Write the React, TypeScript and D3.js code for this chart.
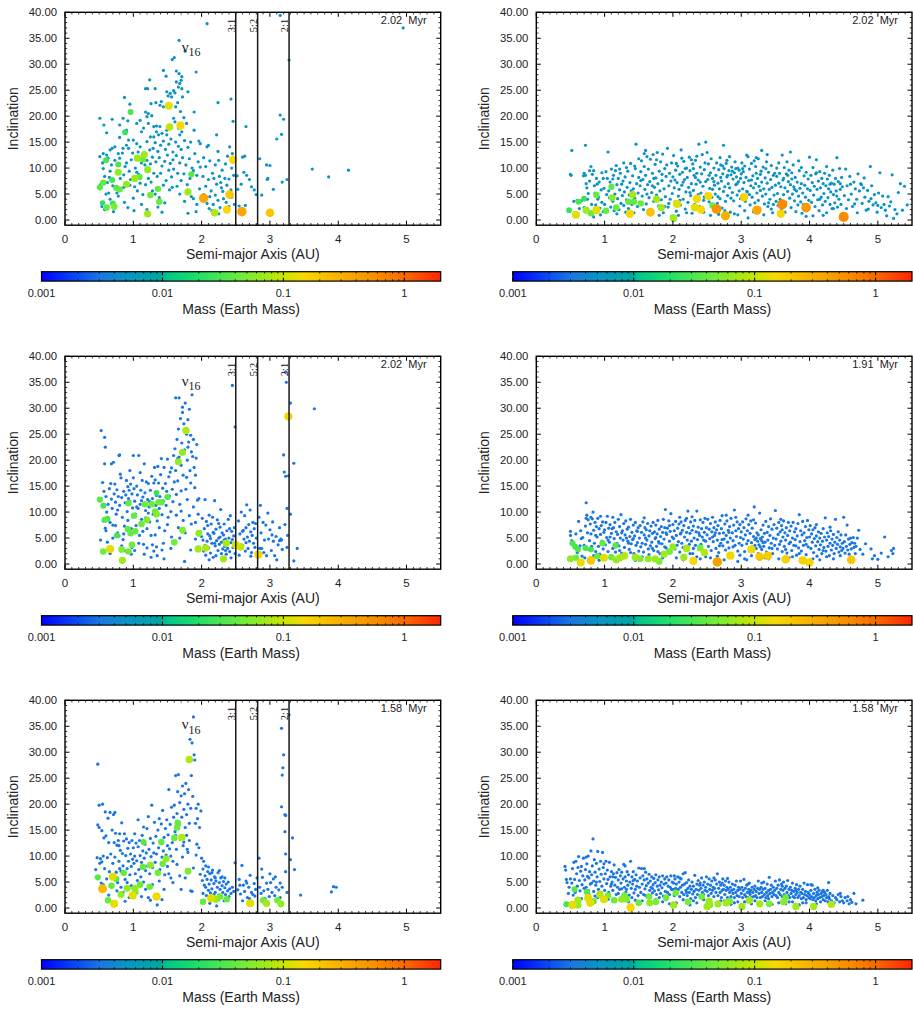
import React from "react";
import * as d3 from "d3";

// ---- chart values ----
const timeLabels = ["2.02  Myr", "2.02  Myr", "2.02  Myr", "1.91  Myr", "1.58  Myr", "1.58  Myr"];
const resonanceA = [2.5, 2.82, 3.28];
const resonanceText = ["3:1", "5:2", "2:1"];
const nuLabelPos = [[1.71, 32.4], [1.71, 34.3], [1.71, 34.4]];
const xTicks = [0, 1, 2, 3, 4, 5];
const yTicks = [0, 5, 10, 15, 20, 25, 30, 35, 40];
const cbTicks = [0.001, 0.01, 0.1, 1];
const cbTickLabels = ["0.001", "0.01", "0.1", "1"];
// mass of the small (planetesimal) bodies in each panel
const smallMass = [0.005, 0.005, 0.003, 0.003, 0.003, 0.003];

// palette of the colour bar
const colorMass = [0.001, 0.002, 0.003, 0.005, 0.0095, 0.011, 0.02, 0.05, 0.1, 0.15, 0.3, 0.6, 1, 2];
const colorHex = ["#0000ff", "#0a4cf2", "#1a76e0", "#0a93c4", "#00a6a2", "#00c88a", "#22e068", "#78ee34", "#c8e600", "#f8d800", "#f8b000", "#f88c00", "#f86a00", "#ff2400"];

// panel 1: top left  [a, i, ...]
const p1Small = [
  0.51,19.6, 0.57,18.3, 0.61,16.8, 0.51,12.2, 0.56,12.8, 0.61,12.5, 0.63,11.9, 0.55,11.0, 0.58,8.4, 0.62,7.2, 0.64,5.2, 0.60,5.0, 0.58,2.0, 0.54,2.6, 0.66,13.5, 0.69,13.8, 0.69,19.4, 0.66,9.4, 0.68,10.6, 0.70,6.6, 0.71,3.1, 0.71,1.6, 0.66,4.0, 0.56,9.9, 0.65,8.2, 0.52,6.8,
  0.73,14.1, 0.73,11.5, 0.75,6.5, 0.76,5.2, 0.78,12.8, 0.80,11.9, 0.80,15.9, 0.80,18.3, 0.85,19.6, 0.92,19.1, 0.87,23.6, 0.90,17.3, 0.88,16.7, 0.93,15.4, 0.90,14.4, 0.93,13.8, 0.85,13.8, 0.84,12.9, 0.88,10.3, 0.90,11.0, 0.86,8.7, 0.94,9.4, 0.96,7.8, 0.86,6.3, 0.87,3.4, 0.92,2.4, 0.81,8.0, 0.78,4.6, 0.95,22.3, 0.97,11.6, 0.99,12.9, 0.95,6.7,
  1.00,15.4, 1.05,14.7, 1.10,14.1, 1.05,18.6, 1.10,19.2, 1.15,17.7, 1.12,17.0, 1.18,20.8, 1.22,20.5, 1.27,20.1, 1.20,19.9, 1.22,18.6, 1.18,25.3, 1.21,25.3, 1.24,27.0, 1.26,22.4, 1.07,13.1, 1.15,12.8, 1.24,13.5, 1.29,13.8, 1.20,15.1, 1.25,16.0, 1.03,10.0, 1.05,9.2, 1.08,12.2, 1.12,11.0, 1.17,10.6, 1.20,11.5, 1.25,10.8, 1.28,12.1, 1.02,6.4, 1.06,5.6, 1.10,7.1, 1.14,4.9, 1.18,6.8, 1.22,8.0, 1.26,7.3, 1.28,5.6, 1.30,9.0, 1.01,1.8, 1.12,3.0, 1.20,2.0, 1.00,4.2, 1.08,8.8,
  1.30,18.0, 1.34,18.1, 1.39,18.0, 1.34,17.0, 1.42,16.7, 1.49,17.3, 1.49,16.4, 1.37,16.4, 1.33,22.6, 1.41,22.8, 1.39,22.1, 1.44,21.8, 1.44,28.8, 1.48,27.7, 1.32,25.3, 1.49,24.7, 1.51,23.9, 1.54,24.4, 1.56,23.7, 1.57,30.9, 1.60,31.3, 1.59,24.9, 1.59,19.6, 1.56,18.1, 1.32,14.9, 1.36,13.2, 1.40,14.4, 1.44,15.2, 1.47,13.6, 1.52,14.6, 1.55,15.6, 1.58,13.1, 1.33,11.2, 1.38,12.0, 1.42,10.4, 1.46,11.3, 1.50,12.5, 1.54,10.9, 1.58,11.6, 1.35,8.4, 1.40,9.0, 1.44,6.7, 1.48,7.6, 1.52,9.6, 1.56,8.3, 1.59,9.8, 1.32,5.0, 1.38,4.3, 1.46,3.3, 1.53,5.8, 1.57,6.3, 1.36,2.5, 1.42,1.5, 1.30,16.0,
  1.61,18.9, 1.66,17.7, 1.71,17.0, 1.68,16.4, 1.63,28.7, 1.67,28.2, 1.71,27.6, 1.70,26.9, 1.63,26.6, 1.68,26.3, 1.66,25.6, 1.71,25.3, 1.61,24.5, 1.72,23.7, 1.80,24.7, 1.67,34.6, 1.76,32.5, 1.62,21.8, 1.65,22.6, 1.69,20.9, 1.74,19.7, 1.78,18.6, 1.89,20.8, 1.89,17.3, 1.92,28.5, 1.62,15.0, 1.66,14.2, 1.70,13.6, 1.75,15.3, 1.80,14.0, 1.84,15.0, 1.63,12.4, 1.68,11.0, 1.72,12.0, 1.77,10.6, 1.82,11.8, 1.86,10.0, 1.90,12.8, 1.65,9.0, 1.70,7.6, 1.74,8.9, 1.79,6.8, 1.83,8.0, 1.88,9.5, 1.93,8.6, 1.96,15.2, 1.98,14.7, 1.95,11.2, 1.98,10.2, 1.68,5.0, 1.75,3.6, 1.85,4.5, 1.88,4.1, 1.92,1.6, 1.80,1.3, 1.97,6.0, 1.64,6.5, 1.93,3.0,
  2.08,37.8, 2.08,14.1, 2.10,14.4, 2.22,16.4, 2.24,22.6, 2.43,23.3, 2.41,14.1, 2.24,13.2, 2.03,12.0, 2.06,10.3, 2.12,11.4, 2.16,9.0, 2.20,10.6, 2.25,11.5, 2.30,9.6, 2.35,10.8, 2.38,12.3, 2.45,12.8, 2.02,8.4, 2.06,6.5, 2.10,7.8, 2.14,5.6, 2.18,8.0, 2.22,6.9, 2.26,8.4, 2.28,7.2, 2.31,5.5, 2.34,8.0, 2.37,6.7, 2.40,7.9, 2.43,5.8, 2.47,8.6, 2.03,4.9, 2.08,3.2, 2.12,4.5, 2.17,3.0, 2.20,4.8, 2.24,3.8, 2.27,2.4, 2.32,4.1, 2.36,3.4, 2.40,2.6, 2.44,4.4, 2.48,3.0, 2.15,1.8, 2.25,1.2, 2.46,19.0, 2.44,10.0, 2.11,2.2, 2.29,6.2,
  2.52,8.5, 2.53,5.9, 2.55,2.7, 2.60,12.1, 2.63,12.3, 2.65,18.0, 2.62,9.2, 2.66,8.6, 2.70,7.8, 2.73,6.4, 2.77,5.8, 2.80,4.9, 2.64,2.8, 2.58,6.9,
  2.85,11.8, 2.88,4.8, 2.95,10.6, 2.97,8.0, 3.00,10.5, 3.05,5.9, 3.10,15.6, 3.15,20.2, 3.17,16.5, 3.20,19.4, 3.18,7.3, 3.25,7.8, 3.28,30.8, 3.15,39.4, 2.96,7.8,
  3.62,9.8, 3.86,8.3, 4.15,9.6, 4.95,37.0,
];
// [a, i, mass, ...]
const p1Big = [
  1.52,22.0,0.13, 1.53,17.9,0.09, 1.69,18.2,0.15, 0.96,20.8,0.03, 0.88,16.9,0.025, 1.16,12.6,0.07, 1.06,11.9,0.07, 1.14,11.7,0.04, 0.60,11.5,0.03, 0.78,10.7,0.03,
  2.46,11.6,0.15, 0.78,9.2,0.06, 1.21,9.7,0.06, 1.02,8.0,0.07, 1.09,8.3,0.04, 1.85,8.8,0.035, 0.69,7.7,0.03, 0.90,6.9,0.06, 0.75,6.2,0.035, 0.80,5.9,0.04,
  0.56,7.2,0.04, 0.51,6.3,0.035, 1.36,6.0,0.04, 1.80,5.4,0.07, 1.25,4.8,0.045, 2.03,4.2,0.35, 2.41,4.9,0.2, 1.38,3.5,0.045, 0.55,3.3,0.02, 0.61,2.4,0.04,
  0.72,2.6,0.05, 0.70,3.2,0.025, 2.37,2.0,0.15, 2.19,1.4,0.08, 1.21,1.2,0.07, 2.59,1.6,0.35, 3.00,1.4,0.2,
];

// panel 2: top right
const p2Small = [
  0.50,8.8, 0.52,13.4, 0.51,8.6, 0.55,3.6, 0.60,3.8, 0.63,2.2, 0.70,9.0, 0.72,8.6, 0.72,14.4, 0.73,7.0, 0.74,6.2, 0.75,4.0, 0.76,5.1, 0.78,9.5, 0.78,7.5, 0.80,10.3, 0.81,3.0, 0.82,8.8, 0.84,0.6, 0.85,6.6, 0.86,5.2, 0.87,2.9, 0.88,8.0, 0.90,4.0, 0.92,7.3, 0.93,2.3, 0.95,5.8, 0.96,3.4, 0.98,8.0, 0.99,6.1, 0.70,2.4, 0.66,3.7, 0.69,8.5, 0.84,9.5, 0.96,9.1, 0.98,1.6, 0.91,4.4, 0.77,1.5, 0.89,6.9, 0.94,1.0,
  1.00,3.0, 1.02,9.3, 1.04,8.0, 1.05,13.1, 1.06,5.6, 1.07,4.3, 1.08,7.3, 1.09,2.5, 1.10,9.8, 1.11,6.2, 1.12,3.6, 1.13,8.6, 1.15,5.0, 1.16,9.5, 1.17,10.5, 1.18,6.8, 1.19,4.1, 1.20,8.0, 1.21,2.0, 1.22,5.8, 1.23,9.0, 1.24,3.2, 1.25,6.9, 1.26,4.7, 1.27,7.5, 1.28,2.8, 1.29,5.4, 1.30,8.3, 1.31,1.5, 1.32,3.9, 1.33,6.3, 1.34,9.4, 1.35,2.2, 1.36,4.8, 1.37,7.2, 1.38,10.9, 1.39,5.6, 1.40,3.0, 1.41,8.5, 1.42,6.0, 1.43,1.4, 1.44,4.2, 1.45,9.9, 1.46,14.6, 1.47,7.0, 1.48,2.6, 1.49,5.2, 1.50,11.8, 1.50,8.2, 1.32,10.1, 1.18,1.2, 1.28,11.0, 1.03,4.9, 1.14,1.8, 1.39,1.1, 1.22,9.8, 1.12,7.9, 1.44,10.4,
  1.51,3.4, 1.52,6.6, 1.53,9.3, 1.54,11.4, 1.55,4.6, 1.56,7.8, 1.57,2.0, 1.58,10.3, 1.59,5.9, 1.60,8.6, 1.61,3.1, 1.62,12.2, 1.63,6.8, 1.64,9.8, 1.65,4.3, 1.66,7.4, 1.67,11.7, 1.68,1.9, 1.69,5.3, 1.70,9.0, 1.71,12.6, 1.72,3.6, 1.73,6.3, 1.74,10.7, 1.75,8.1, 1.76,4.8, 1.77,13.0, 1.78,7.0, 1.79,2.7, 1.80,9.4, 1.81,5.6, 1.82,11.2, 1.83,3.9, 1.84,7.6, 1.85,12.7, 1.86,1.4, 1.87,6.0, 1.88,9.9, 1.89,4.5, 1.90,8.4, 1.91,10.6, 1.92,13.8, 1.93,2.5, 1.94,6.6, 1.95,9.0, 1.96,4.0, 1.97,7.5, 1.98,11.0, 1.99,5.1, 1.60,13.4, 1.72,8.0, 1.53,7.6, 1.66,1.1, 1.84,8.8, 1.58,12.8, 1.76,11.6, 1.62,5.0, 1.94,3.2, 1.70,6.6, 1.80,0.9, 1.88,2.6,
  2.00,8.3, 2.01,12.4, 2.02,6.2, 2.03,3.5, 2.04,9.6, 2.05,1.7, 2.06,7.2, 2.07,10.4, 2.08,4.6, 2.09,5.9, 2.10,8.8, 2.11,2.9, 2.12,13.5, 2.13,6.7, 2.14,9.2, 2.15,4.0, 2.16,11.3, 2.17,7.8, 2.18,2.1, 2.19,5.4, 2.20,10.0, 2.21,8.2, 2.22,3.4, 2.23,6.3, 2.24,12.1, 2.25,9.5, 2.26,4.7, 2.27,7.0, 2.28,1.3, 2.29,10.8, 2.30,5.7, 2.31,8.6, 2.32,3.0, 2.33,11.5, 2.34,6.9, 2.35,9.0, 2.36,4.3, 2.37,7.7, 2.38,14.6, 2.39,2.6, 2.40,10.2, 2.41,5.2, 2.42,8.9, 2.43,12.6, 2.44,6.5, 2.45,3.8, 2.46,9.7, 2.47,11.0, 2.48,15.0, 2.48,7.4, 2.49,5.0, 2.50,13.0, 2.05,10.9, 2.15,7.3, 2.25,5.3, 2.35,12.3, 2.45,1.5, 2.10,3.8, 2.20,1.4, 2.30,9.9, 2.40,7.3, 2.13,11.9, 2.27,11.6, 2.37,4.9, 2.08,0.9, 2.42,2.2, 2.18,9.9, 2.33,8.2, 2.03,7.7, 2.46,4.4,
  2.51,7.8, 2.52,10.8, 2.53,3.5, 2.54,6.1, 2.55,9.1, 2.56,11.8, 2.57,4.4, 2.58,8.0, 2.59,2.4, 2.60,10.0, 2.61,6.7, 2.62,5.0, 2.63,8.6, 2.64,11.0, 2.65,3.2, 2.66,7.1, 2.67,9.7, 2.68,6.0, 2.69,4.1, 2.70,10.6, 2.71,7.5, 2.72,2.3, 2.73,8.9, 2.74,14.4, 2.74,5.5, 2.75,9.9, 2.76,6.4, 2.77,3.6, 2.78,10.9, 2.79,8.3, 2.80,4.7, 2.81,7.0, 2.82,9.5, 2.83,6.2, 2.84,1.5, 2.85,8.7, 2.86,10.2, 2.87,5.3, 2.88,7.9, 2.89,3.7, 2.90,9.1, 2.91,11.2, 2.92,6.8, 2.93,8.3, 2.94,4.8, 2.95,10.0, 2.96,7.4, 2.97,9.6, 2.98,2.7, 2.99,8.0, 2.55,0.9, 2.62,2.1, 2.69,12.0, 2.76,1.8, 2.83,12.2, 2.90,1.2, 2.97,5.6, 2.58,5.9, 2.66,4.5, 2.73,10.4, 2.80,8.6, 2.87,9.4, 2.94,7.0, 2.60,7.4, 2.70,8.2, 2.85,4.2, 2.95,1.0, 2.53,8.6, 2.67,1.1, 2.79,11.5, 2.92,9.9, 2.99,4.1,
  3.00,8.9, 3.01,11.0, 3.02,6.0, 3.03,9.3, 3.04,7.2, 3.05,10.4, 3.06,3.6, 3.07,8.2, 3.08,12.5, 3.09,5.4, 3.10,12.2, 3.11,7.6, 3.12,9.8, 3.13,2.9, 3.14,6.6, 3.15,10.9, 3.16,4.4, 3.17,8.5, 3.18,6.2, 3.19,11.4, 3.20,3.3, 3.21,7.0, 3.22,9.0, 3.23,5.2, 3.24,8.0, 3.25,11.8, 3.26,6.5, 3.27,2.2, 3.28,5.7, 3.29,9.4, 3.30,13.4, 3.30,7.3, 3.31,4.6, 3.32,10.2, 3.33,6.0, 3.34,3.1, 3.35,8.1, 3.36,5.0, 3.37,11.2, 3.38,7.1, 3.39,2.6, 3.40,9.2, 3.41,5.9, 3.42,4.0, 3.43,7.8, 3.44,10.5, 3.45,6.3, 3.46,1.4, 3.47,8.6, 3.48,4.8, 3.49,9.0, 3.50,6.7, 3.05,1.8, 3.12,4.9, 3.18,1.6, 3.25,3.8, 3.33,1.0, 3.40,3.3, 3.15,7.7, 3.22,12.0, 3.28,8.8, 3.36,9.9, 3.44,2.1, 3.02,4.5, 3.08,5.5, 3.21,10.3, 3.38,12.6, 3.47,3.0, 3.10,0.4, 3.02,9.9,
  3.51,3.6, 3.52,8.4, 3.53,5.1, 3.54,2.8, 3.55,7.1, 3.56,9.0, 3.57,4.0, 3.58,6.4, 3.59,1.9, 3.60,12.5, 3.61,7.7, 3.62,4.9, 3.63,10.1, 3.64,6.2, 3.65,3.4, 3.66,8.9, 3.67,11.2, 3.68,5.5, 3.69,7.4, 3.70,9.6, 3.71,4.2, 3.72,13.1, 3.72,6.8, 3.73,2.4, 3.74,7.9, 3.75,5.0, 3.76,10.6, 3.77,6.4, 3.78,3.7, 3.79,8.2, 3.80,1.6, 3.81,5.6, 3.82,7.3, 3.83,2.9, 3.84,4.6, 3.85,9.5, 3.86,6.1, 3.87,3.5, 3.88,7.0, 3.89,1.3, 3.90,5.2, 3.91,3.0, 3.92,8.5, 3.93,6.7, 3.94,4.4, 3.95,9.2, 3.96,2.2, 3.97,6.0, 3.98,7.9, 3.99,3.8, 3.55,11.0, 3.64,1.5, 3.74,9.1, 3.84,11.4, 3.58,3.0, 3.68,8.6, 3.78,5.9, 3.88,10.1, 3.95,0.7, 3.52,10.0, 3.62,8.0,
  4.00,12.1, 4.01,5.7, 4.02,8.6, 4.03,3.4, 4.04,7.2, 4.05,10.1, 4.06,4.8, 4.07,6.5, 4.08,2.6, 4.09,8.9, 4.10,11.6, 4.11,5.9, 4.12,3.9, 4.13,7.5, 4.14,1.8, 4.15,9.3, 4.16,6.2, 4.17,4.4, 4.18,8.0, 4.19,2.9, 4.20,7.0, 4.21,5.1, 4.22,9.0, 4.23,3.6, 4.24,6.6, 4.25,1.4, 4.26,7.9, 4.27,4.3, 4.28,6.0, 4.29,8.6, 4.30,3.0, 4.31,5.4, 4.32,7.1, 4.33,2.2, 4.34,9.6, 4.35,4.9, 4.36,6.9, 4.37,3.3, 4.38,8.0, 4.39,5.6, 4.40,12.0, 4.41,2.5, 4.42,7.4, 4.43,4.0, 4.44,9.9, 4.45,5.9, 4.46,3.0, 4.47,8.2, 4.48,6.4, 4.49,1.2, 4.05,0.8, 4.15,4.0, 4.25,10.3, 4.35,2.2, 4.45,7.0, 4.10,9.1, 4.20,0.9, 4.30,6.9, 4.40,4.6,
  4.51,4.7, 4.53,9.8, 4.55,6.6, 4.57,3.9, 4.59,8.4, 4.61,5.0, 4.63,2.6, 4.65,7.3, 4.67,6.0, 4.69,4.0, 4.71,8.9, 4.73,5.6, 4.75,7.0, 4.77,3.2, 4.79,6.2, 4.81,4.4, 4.83,1.9, 4.85,5.7, 4.87,3.6, 4.89,10.3, 4.91,6.6, 4.93,2.9, 4.95,4.9, 4.97,3.3, 4.99,1.5, 5.01,5.2, 5.03,9.1, 5.05,2.4, 5.07,4.6, 5.09,3.0, 5.11,1.9, 5.13,0.8, 5.15,4.5, 5.17,2.7, 5.19,3.5, 5.21,8.7, 5.23,0.3, 5.25,2.0, 5.28,1.2, 5.30,5.3, 5.33,7.0, 5.36,1.9, 5.39,6.5, 5.43,2.9, 4.60,6.9, 4.70,1.4, 4.80,8.1, 4.90,4.1, 5.00,2.8, 4.66,3.1, 4.76,6.8, 4.86,2.1, 4.54,2.2,
];
const p2Big = [
  0.48,1.9,0.025, 0.58,1.0,0.12, 0.62,3.5,0.03, 0.70,4.1,0.025, 0.73,1.9,0.07, 0.80,1.3,0.04, 0.88,1.9,0.12, 0.88,4.8,0.04, 1.02,1.8,0.04, 1.10,6.4,0.035,
  1.11,4.3,0.06, 1.17,2.4,0.045, 1.35,3.5,0.04, 1.37,1.2,0.15, 1.41,4.9,0.07, 1.43,3.5,0.04, 1.53,3.2,0.04, 1.67,1.5,0.22, 1.76,4.0,0.07, 1.83,2.4,0.07,
  2.00,0.5,0.04, 2.01,0.3,0.07, 2.06,3.1,0.13, 2.32,2.4,0.13, 2.35,4.1,0.15, 2.41,2.0,0.15, 2.52,4.6,0.15, 2.58,2.8,0.04, 2.64,2.1,0.5, 2.77,0.8,0.3,
  3.04,4.4,0.17, 3.23,1.9,0.35, 3.58,1.2,0.15, 3.60,3.0,0.6, 3.95,2.4,0.45, 4.50,0.6,0.6,
];

// panel 3: middle left
const p3Small = [
  0.53,25.7, 0.58,24.4, 0.59,22.5, 0.52,4.6, 0.55,15.7, 0.57,14.0, 0.58,19.3, 0.60,13.0, 0.61,10.0, 0.56,8.3, 0.59,6.9, 0.60,6.4, 0.62,4.2, 0.64,3.0, 0.65,14.5, 0.66,8.0, 0.67,15.5, 0.68,12.5, 0.69,10.7, 0.70,7.5, 0.70,5.0, 0.68,19.3, 0.63,11.5, 0.66,2.0, 0.57,11.5,
  0.71,19.6, 0.72,13.5, 0.73,15.4, 0.74,11.9, 0.75,9.6, 0.76,14.3, 0.77,6.0, 0.78,13.0, 0.79,20.9, 0.80,21.0, 0.80,11.3, 0.81,17.3, 0.82,16.6, 0.83,12.8, 0.84,9.0, 0.85,4.7, 0.86,14.0, 0.87,7.3, 0.88,11.8, 0.89,13.3, 0.90,16.1, 0.91,10.1, 0.92,8.4, 0.93,12.6, 0.94,14.2, 0.95,18.0, 0.96,15.4, 0.97,6.8, 0.98,13.5, 0.99,10.8, 1.00,20.9, 1.00,16.6, 0.77,10.4, 0.83,3.5, 0.89,2.5, 0.95,12.0, 0.74,7.4, 0.86,5.8, 0.92,14.9, 0.98,3.2, 0.79,5.4, 0.97,1.9,
  1.01,14.5, 1.02,12.1, 1.03,9.6, 1.04,7.4, 1.05,15.0, 1.06,13.3, 1.07,10.7, 1.08,20.9, 1.09,5.5, 1.10,11.5, 1.11,14.2, 1.12,8.6, 1.13,16.1, 1.14,12.9, 1.15,3.8, 1.16,19.3, 1.17,13.7, 1.18,10.3, 1.19,15.8, 1.20,6.8, 1.21,12.4, 1.22,15.5, 1.23,11.0, 1.24,8.1, 1.25,14.2, 1.26,5.5, 1.27,16.9, 1.28,12.6, 1.29,9.6, 1.30,15.6, 1.30,2.5, 1.02,2.6, 1.08,4.0, 1.14,6.3, 1.20,3.1, 1.26,1.3, 1.05,11.0, 1.12,12.2, 1.18,8.9, 1.24,12.0, 1.10,17.6, 1.22,9.8, 1.16,1.9, 1.28,3.7,
  1.31,18.6, 1.32,16.2, 1.33,11.3, 1.34,13.2, 1.35,8.3, 1.36,18.8, 1.37,15.6, 1.38,10.7, 1.39,13.0, 1.40,17.2, 1.41,20.3, 1.42,9.5, 1.43,14.6, 1.44,12.1, 1.45,18.6, 1.46,6.4, 1.47,15.5, 1.48,11.3, 1.49,14.0, 1.50,20.2, 1.51,9.0, 1.52,16.8, 1.53,13.1, 1.54,17.7, 1.55,10.1, 1.56,18.5, 1.57,14.4, 1.58,12.0, 1.59,20.9, 1.60,15.8, 1.32,5.6, 1.38,7.0, 1.44,4.0, 1.50,7.6, 1.56,5.2, 1.35,1.6, 1.45,1.0, 1.42,2.7, 1.55,3.0, 1.34,3.3,
  1.61,22.2, 1.62,18.0, 1.63,13.4, 1.64,24.0, 1.65,16.0, 1.66,26.0, 1.67,20.6, 1.68,11.5, 1.69,28.0, 1.70,19.0, 1.71,23.3, 1.72,30.2, 1.73,17.1, 1.74,27.0, 1.75,22.0, 1.76,31.0, 1.77,14.4, 1.78,25.0, 1.79,20.0, 1.80,27.8, 1.81,23.5, 1.82,29.8, 1.83,18.0, 1.84,24.8, 1.85,21.6, 1.86,32.6, 1.87,20.7, 1.88,24.0, 1.89,18.6, 1.90,14.7, 1.91,17.1, 1.92,20.4, 1.93,23.0, 1.94,12.3, 1.95,9.6, 1.96,12.6, 1.98,6.2, 1.63,9.4, 1.66,7.0, 1.70,10.2, 1.73,8.4, 1.76,6.0, 1.79,12.4, 1.82,9.3, 1.85,7.7, 1.88,11.0, 1.91,4.8, 1.68,5.0, 1.75,0.5, 1.84,2.7, 1.62,32.0, 1.67,32.0, 1.72,29.2, 1.80,22.5, 1.78,16.7, 1.70,14.1, 1.84,15.6, 1.91,8.0, 1.65,20.3,
  2.00,5.3, 2.02,4.6, 2.03,2.5, 2.04,6.8, 2.05,12.4, 2.06,1.7, 2.07,8.2, 2.08,4.4, 2.09,7.4, 2.10,3.1, 2.11,9.4, 2.12,5.4, 2.13,2.1, 2.14,7.7, 2.15,4.0, 2.16,9.0, 2.17,1.3, 2.18,5.9, 2.19,12.2, 2.20,3.5, 2.21,6.7, 2.22,4.5, 2.23,8.5, 2.24,2.6, 2.25,5.0, 2.26,3.8, 2.27,7.1, 2.28,10.5, 2.29,4.2, 2.30,6.0, 2.31,2.9, 2.32,5.6, 2.33,7.7, 2.34,3.4, 2.35,4.8, 2.36,1.9, 2.37,6.4, 2.38,3.0, 2.39,8.6, 2.40,5.0, 2.41,2.4, 2.42,9.3, 2.43,4.1, 2.44,6.3, 2.45,34.4, 2.46,3.2, 2.47,5.4, 2.48,7.0, 2.49,26.4, 2.49,2.0, 2.01,8.8, 2.05,3.6, 2.09,5.8, 2.13,4.9, 2.17,6.1, 2.21,1.6, 2.25,7.8, 2.29,2.0, 2.33,4.6, 2.37,3.9, 2.41,6.8, 2.45,4.7, 2.11,0.8, 2.19,4.0, 2.27,5.2, 2.35,2.6, 2.43,1.2,
  2.52,4.0, 2.54,8.3, 2.55,1.7, 2.56,5.8, 2.58,10.0, 2.60,3.6, 2.61,6.5, 2.62,4.8, 2.63,9.3, 2.64,2.5, 2.65,7.0, 2.66,11.4, 2.67,5.2, 2.68,3.0, 2.69,7.6, 2.70,4.4, 2.71,10.4, 2.72,6.2, 2.73,2.2, 2.74,5.5, 2.75,8.0, 2.76,4.0, 2.77,6.8, 2.78,3.2, 2.79,7.8, 2.80,5.0, 2.57,3.0, 2.65,4.1, 2.72,1.5, 2.60,6.3,
  2.84,9.0, 2.85,3.0, 2.86,11.3, 2.87,6.0, 2.88,3.0, 2.90,8.0, 2.92,4.6, 2.94,7.5, 2.95,1.6, 2.97,9.8, 2.98,4.8, 3.00,6.6, 3.02,2.6, 3.04,8.1, 3.05,4.4, 3.07,1.6, 3.09,5.3, 3.10,0.8, 3.12,3.7, 3.14,7.0, 3.16,4.8, 3.18,2.8, 3.20,21.0, 3.21,17.7, 3.22,7.6, 3.23,16.9, 3.23,37.0, 3.24,35.0, 3.25,10.7, 3.26,5.5, 3.25,3.2, 3.27,17.0, 3.14,4.5, 3.17,4.6, 2.91,2.2, 3.03,5.6,
  3.30,31.0, 3.30,9.6, 3.35,19.4, 3.40,3.0, 3.35,0.6, 3.65,29.9,
];
const p3Big = [
  0.51,12.4,0.035, 0.56,11.2,0.03, 0.58,8.5,0.035, 0.62,8.7,0.03, 0.56,2.4,0.045, 0.66,2.9,0.13, 0.76,5.5,0.03, 0.83,2.8,0.05, 0.84,0.7,0.07, 0.92,6.7,0.04,
  0.93,11.7,0.04, 0.93,2.4,0.045, 0.96,5.9,0.04, 0.98,3.7,0.045, 1.01,9.3,0.04, 1.03,6.3,0.04, 1.12,7.7,0.045, 1.17,11.5,0.045, 1.20,8.5,0.055, 1.27,11.5,0.045,
  1.32,10.1,0.04, 1.34,9.6,0.055, 1.34,13.7,0.025, 1.37,11.9,0.045, 1.41,11.9,0.04, 1.50,12.9,0.035, 1.60,4.2,0.045, 1.66,19.7,0.06, 1.72,21.5,0.06, 1.72,6.5,0.055,
  1.77,25.7,0.08, 1.96,5.9,0.06, 1.95,2.9,0.07, 2.06,3.1,0.08, 2.32,1.0,0.07, 2.36,4.0,0.075, 2.50,3.7,0.12, 2.57,3.3,0.09, 2.83,1.8,0.14, 3.27,28.4,0.14,
];

// panel 4: middle right
const p4Small = [
  0.50,6.3, 0.50,5.5, 0.52,4.5, 0.55,3.7, 0.58,5.8, 0.60,2.2, 0.62,8.2, 0.64,3.5, 0.65,6.4, 0.67,1.5, 0.68,5.1, 0.70,3.6, 0.72,7.3, 0.73,11.8, 0.74,9.4, 0.75,6.0, 0.76,8.5, 0.77,2.8, 0.78,4.5, 0.79,7.7, 0.80,5.8, 0.81,3.4, 0.82,8.7, 0.83,10.0, 0.84,6.5, 0.85,4.0, 0.86,8.0, 0.87,2.4, 0.88,7.2, 0.89,5.2, 0.90,8.8, 0.91,3.4, 0.92,6.8, 0.93,1.9, 0.94,5.7, 0.95,7.4, 0.96,4.4, 0.97,8.1, 0.98,2.9, 0.99,6.1, 0.73,8.8, 0.80,9.0, 0.87,5.5, 0.94,9.2, 0.66,4.9, 0.71,1.2, 0.92,0.7, 0.84,1.6,
  1.00,6.6, 1.01,3.7, 1.02,8.0, 1.03,5.1, 1.04,9.2, 1.05,2.4, 1.06,6.9, 1.07,4.2, 1.08,7.6, 1.09,1.6, 1.10,5.9, 1.11,6.8, 1.12,3.0, 1.13,7.0, 1.14,4.9, 1.15,8.0, 1.16,2.3, 1.17,6.2, 1.18,4.0, 1.19,5.7, 1.20,8.6, 1.21,3.5, 1.22,7.2, 1.23,5.0, 1.24,9.5, 1.25,2.1, 1.26,6.4, 1.27,4.6, 1.28,7.8, 1.29,3.2, 1.30,5.6, 1.31,8.3, 1.32,1.5, 1.33,6.7, 1.34,4.4, 1.35,7.1, 1.36,2.8, 1.37,5.3, 1.38,8.6, 1.39,3.9, 1.40,6.1, 1.41,4.7, 1.42,7.5, 1.43,2.0, 1.44,5.4, 1.45,8.0, 1.46,3.6, 1.47,6.4, 1.48,4.1, 1.49,7.0, 1.50,2.5, 1.05,4.6, 1.15,3.3, 1.25,6.0, 1.35,4.0, 1.45,0.7, 1.12,9.0, 1.22,2.6, 1.32,5.0, 1.42,4.9, 1.08,5.2, 1.28,1.2, 1.38,2.2, 1.48,6.3,
  1.51,5.0, 1.52,7.4, 1.53,3.3, 1.54,6.1, 1.55,4.0, 1.56,8.1, 1.57,2.3, 1.58,5.6, 1.59,7.0, 1.60,3.8, 1.61,6.6, 1.62,4.6, 1.63,7.8, 1.64,2.9, 1.65,5.4, 1.66,6.4, 1.67,3.5, 1.68,7.3, 1.69,4.2, 1.70,5.9, 1.71,8.0, 1.72,2.6, 1.73,6.2, 1.74,4.9, 1.75,7.5, 1.76,3.4, 1.77,5.8, 1.78,8.4, 1.79,4.3, 1.80,6.7, 1.81,2.0, 1.82,5.3, 1.83,7.2, 1.84,3.9, 1.85,6.1, 1.86,8.6, 1.87,4.8, 1.88,7.0, 1.89,10.5, 1.90,3.1, 1.91,5.7, 1.92,6.9, 1.93,2.7, 1.94,8.3, 1.95,4.4, 1.96,6.3, 1.97,9.7, 1.98,3.6, 1.99,5.2, 1.55,1.4, 1.65,1.8, 1.75,5.1, 1.85,1.2, 1.95,7.4, 1.60,5.0, 1.70,3.0, 1.80,4.0, 1.90,6.0, 1.58,8.9, 1.78,2.4, 1.88,3.3,
  2.00,7.6, 2.01,4.9, 2.02,6.4, 2.03,2.9, 2.04,8.2, 2.05,5.5, 2.06,3.6, 2.07,6.9, 2.08,4.3, 2.09,7.7, 2.10,2.3, 2.11,5.8, 2.12,8.1, 2.13,4.0, 2.14,6.5, 2.15,3.2, 2.16,7.4, 2.17,5.2, 2.18,8.4, 2.19,2.7, 2.20,6.1, 2.21,4.6, 2.22,10.2, 2.23,7.0, 2.24,3.8, 2.25,5.9, 2.26,8.1, 2.27,4.4, 2.28,6.5, 2.29,2.0, 2.30,7.3, 2.31,5.0, 2.32,8.4, 2.33,3.6, 2.34,6.2, 2.35,10.2, 2.36,4.7, 2.37,7.1, 2.38,2.8, 2.39,5.5, 2.40,8.5, 2.41,3.8, 2.42,6.8, 2.43,5.2, 2.44,8.0, 2.45,2.0, 2.46,6.1, 2.47,8.8, 2.48,4.4, 2.49,7.0, 2.05,1.2, 2.15,0.8, 2.25,2.0, 2.35,1.4, 2.45,4.6, 2.10,9.0, 2.20,8.8, 2.30,3.0, 2.40,1.0, 2.12,6.0, 2.28,9.1, 2.38,6.0, 2.48,1.4,
  2.50,5.6, 2.51,8.6, 2.52,3.4, 2.53,6.7, 2.54,4.9, 2.55,7.8, 2.56,2.6, 2.57,6.2, 2.58,9.0, 2.59,4.3, 2.60,7.0, 2.61,5.5, 2.62,8.1, 2.63,3.0, 2.64,6.6, 2.65,4.6, 2.66,7.4, 2.67,2.2, 2.68,5.9, 2.69,8.4, 2.70,4.0, 2.71,6.8, 2.72,9.3, 2.73,3.5, 2.74,6.0, 2.75,4.8, 2.76,7.7, 2.77,2.7, 2.78,5.5, 2.79,8.3, 2.80,4.2, 2.81,6.5, 2.82,3.1, 2.83,7.2, 2.84,5.0, 2.85,8.8, 2.86,2.0, 2.87,6.0, 2.88,4.5, 2.89,7.5, 2.90,10.4, 2.91,3.6, 2.92,6.4, 2.93,5.3, 2.94,8.1, 2.95,2.5, 2.96,6.8, 2.97,4.0, 2.98,7.6, 2.99,5.1, 2.55,1.2, 2.65,1.5, 2.75,0.8, 2.85,1.4, 2.95,0.5, 2.58,5.2, 2.68,3.5, 2.78,9.4, 2.88,3.3, 2.98,1.7, 2.62,6.0, 2.72,4.7, 2.82,6.1, 2.92,9.0,
  3.00,6.2, 3.01,3.6, 3.02,8.1, 3.03,4.8, 3.04,7.0, 3.05,2.4, 3.06,5.6, 3.07,8.7, 3.08,3.9, 3.09,6.4, 3.10,4.5, 3.11,7.6, 3.12,2.8, 3.13,5.9, 3.14,8.3, 3.15,4.1, 3.16,6.9, 3.17,3.3, 3.18,5.3, 3.19,11.0, 3.20,4.7, 3.21,7.9, 3.22,3.0, 3.23,6.0, 3.24,4.4, 3.25,5.6, 3.26,3.7, 3.27,9.8, 3.28,4.9, 3.29,6.6, 3.30,2.8, 3.31,5.2, 3.32,7.5, 3.33,3.4, 3.34,5.9, 3.35,4.2, 3.36,8.2, 3.37,2.3, 3.38,6.1, 3.39,4.6, 3.40,7.2, 3.41,3.1, 3.42,5.5, 3.43,8.7, 3.44,4.0, 3.45,6.7, 3.46,2.0, 3.47,5.0, 3.48,7.6, 3.49,3.6, 3.50,10.3, 3.05,1.0, 3.15,1.6, 3.25,2.0, 3.35,1.2, 3.45,3.0, 3.10,9.4, 3.20,3.6, 3.30,4.5, 3.40,1.0, 3.08,0.8, 3.22,5.0, 3.28,3.3, 3.32,4.1, 3.18,8.5,
  3.51,4.8, 3.52,6.9, 3.53,2.9, 3.54,5.7, 3.55,8.0, 3.56,3.8, 3.57,6.2, 3.58,4.4, 3.59,7.4, 3.60,2.4, 3.61,5.2, 3.62,8.3, 3.63,3.4, 3.64,6.0, 3.65,4.6, 3.66,7.0, 3.67,2.1, 3.68,5.5, 3.69,8.0, 3.70,3.9, 3.71,6.4, 3.72,4.2, 3.73,7.3, 3.74,2.6, 3.75,5.0, 3.76,8.0, 3.77,3.6, 3.78,6.2, 3.79,4.7, 3.80,6.8, 3.81,1.7, 3.82,5.4, 3.83,7.8, 3.84,3.1, 3.85,9.5, 3.86,4.3, 3.87,6.4, 3.88,2.5, 3.89,5.6, 3.90,8.2, 3.91,3.6, 3.92,6.0, 3.93,4.5, 3.94,7.2, 3.95,1.8, 3.96,5.1, 3.97,8.4, 3.98,3.3, 3.99,6.6, 3.55,1.0, 3.65,2.8, 3.75,1.4, 3.85,2.0, 3.95,3.8, 3.60,6.6, 3.70,1.2, 3.80,3.5, 3.90,1.0, 3.58,8.6,
  4.00,5.2, 4.01,7.4, 4.02,3.0, 4.03,5.8, 4.04,4.2, 4.05,6.6, 4.06,2.2, 4.07,4.9, 4.08,7.0, 4.09,3.5, 4.10,5.4, 4.11,1.5, 4.12,4.3, 4.13,6.2, 4.14,2.8, 4.15,5.0, 4.16,3.7, 4.17,5.9, 4.18,2.0, 4.19,4.4, 4.20,6.8, 4.21,3.2, 4.22,5.2, 4.23,8.9, 4.24,2.5, 4.25,4.6, 4.26,6.0, 4.27,3.4, 4.28,5.3, 4.29,1.6, 4.30,4.0, 4.31,6.4, 4.32,2.7, 4.33,4.8, 4.34,3.6, 4.35,5.7, 4.36,2.0, 4.37,4.2, 4.38,8.6, 4.39,3.0, 4.40,5.1, 4.41,3.8, 4.42,6.2, 4.43,2.3, 4.44,4.6, 4.45,3.3, 4.46,5.6, 4.47,2.6, 4.48,4.0, 4.49,3.0, 4.05,1.0, 4.15,0.8, 4.25,1.4, 4.35,1.0, 4.45,1.6, 4.10,7.6, 4.20,2.6, 4.30,7.1,
  4.50,9.0, 4.51,4.3, 4.52,2.1, 4.53,5.6, 4.54,3.4, 4.55,7.5, 4.56,2.7, 4.57,4.8, 4.58,1.9, 4.59,3.8, 4.60,5.0, 4.61,2.9, 4.62,4.1, 4.63,1.2, 4.64,5.1, 4.65,3.2, 4.66,4.0, 4.67,2.0, 4.68,3.4, 4.70,5.0, 4.72,6.5, 4.74,2.8, 4.78,1.9, 4.82,3.9, 4.90,2.9, 4.95,1.6, 5.00,0.9, 5.05,2.1, 5.10,5.2, 5.15,1.4, 5.20,2.6, 5.23,3.0, 4.92,1.0, 5.22,2.0,
];
const p4Big = [
  0.50,1.0,0.06, 0.58,1.2,0.045, 0.53,4.0,0.03, 0.57,3.3,0.03, 0.61,2.8,0.03, 0.65,0.3,0.13, 0.72,3.1,0.03, 0.80,2.8,0.03, 0.80,0.7,0.2, 0.89,1.5,0.04,
  0.97,4.0,0.04, 0.99,1.2,0.12, 1.10,1.3,0.045, 1.16,3.6,0.035, 1.17,0.8,0.06, 1.22,1.2,0.07, 1.29,1.6,0.08, 1.45,1.3,0.07, 1.52,1.0,0.05, 1.64,1.0,0.06,
  1.74,1.0,0.07, 1.80,0.5,0.05, 1.87,1.9,0.07, 1.95,2.4,0.05, 2.00,3.3,0.06, 2.16,1.3,0.07, 2.20,3.0,0.08, 2.30,0.6,0.15, 2.40,3.1,0.05, 2.46,2.2,0.08,
  2.65,0.4,0.4, 2.84,1.6,0.14, 3.15,2.8,0.14, 3.27,1.4,0.2, 3.39,1.6,0.18, 3.65,0.9,0.17, 3.90,0.7,0.17, 4.00,0.3,0.16, 4.61,0.8,0.2,
];

// panel 5: bottom left
const p5Small = [
  0.45,7.4, 0.47,9.7, 0.48,27.7, 0.48,16.0, 0.50,15.5, 0.50,19.8, 0.51,8.6, 0.52,9.5, 0.53,4.8, 0.54,8.9, 0.55,20.0, 0.56,10.0, 0.57,13.5, 0.58,7.6, 0.59,18.5, 0.60,13.9, 0.61,5.6, 0.62,9.7, 0.63,17.3, 0.64,12.6, 0.65,7.0, 0.66,18.4, 0.67,10.4, 0.68,4.4, 0.69,15.0, 0.70,8.6, 0.56,4.5, 0.64,2.5, 0.54,14.9,
  0.71,18.0, 0.72,12.6, 0.73,9.8, 0.74,14.4, 0.75,6.9, 0.76,12.1, 0.77,4.9, 0.78,13.0, 0.79,9.0, 0.80,14.3, 0.81,11.1, 0.82,7.1, 0.83,16.4, 0.84,10.5, 0.85,8.1, 0.86,12.9, 0.87,14.3, 0.88,5.5, 0.89,10.1, 0.90,13.3, 0.91,7.6, 0.92,11.5, 0.93,9.0, 0.94,12.6, 0.95,6.4, 0.96,10.4, 0.97,8.0, 0.98,13.0, 0.99,9.4, 1.00,11.6, 0.73,18.4, 0.76,3.3, 0.82,4.0, 0.88,1.3, 0.94,2.0, 0.79,12.0, 0.85,3.0, 0.91,4.9, 0.97,4.3, 0.80,7.6,
  1.01,8.6, 1.02,10.0, 1.03,6.6, 1.04,12.5, 1.05,9.1, 1.06,5.3, 1.07,11.8, 1.08,7.4, 1.09,13.0, 1.10,10.1, 1.11,6.0, 1.12,8.8, 1.13,14.0, 1.14,11.0, 1.15,5.0, 1.16,9.6, 1.17,12.3, 1.18,7.2, 1.19,10.6, 1.20,15.3, 1.21,8.1, 1.22,17.6, 1.23,11.3, 1.24,6.6, 1.25,13.4, 1.26,9.9, 1.27,19.8, 1.28,7.8, 1.29,12.5, 1.30,10.6, 1.05,3.0, 1.12,2.2, 1.18,3.6, 1.25,1.5, 1.07,17.0, 1.15,15.6, 1.28,4.5, 1.22,2.0, 1.11,4.6, 1.02,14.3,
  1.31,16.5, 1.32,8.8, 1.33,13.8, 1.34,10.4, 1.35,0.6, 1.36,15.0, 1.37,11.6, 1.38,17.2, 1.39,7.4, 1.40,12.9, 1.41,16.2, 1.42,9.8, 1.43,18.8, 1.44,11.0, 1.45,13.6, 1.46,6.4, 1.47,15.3, 1.48,10.2, 1.49,17.0, 1.50,8.0, 1.51,14.1, 1.52,22.8, 1.53,11.4, 1.54,16.1, 1.55,5.8, 1.56,19.4, 1.57,12.6, 1.58,9.0, 1.59,17.5, 1.60,19.8, 1.38,5.2, 1.45,3.6, 1.52,6.6, 1.58,4.9, 1.42,1.6, 1.33,2.6, 1.50,12.0, 1.55,10.0,
  1.61,14.7, 1.62,25.5, 1.63,11.3, 1.64,18.2, 1.65,22.4, 1.66,25.7, 1.67,16.0, 1.68,20.3, 1.69,13.2, 1.70,21.6, 1.71,17.5, 1.72,23.5, 1.73,12.0, 1.74,19.0, 1.75,22.0, 1.76,15.5, 1.77,24.0, 1.78,18.0, 1.79,11.3, 1.80,20.0, 1.81,22.8, 1.82,16.3, 1.83,32.5, 1.84,19.2, 1.85,25.5, 1.86,31.8, 1.87,21.5, 1.88,36.8, 1.89,29.5, 1.90,28.5, 1.91,16.3, 1.92,19.2, 1.93,12.3, 1.94,17.2, 1.95,20.0, 1.96,11.6, 1.97,15.5, 1.98,6.5, 1.99,18.7, 1.64,8.4, 1.68,6.2, 1.72,9.8, 1.76,5.8, 1.80,10.7, 1.84,3.3, 1.88,7.7, 1.92,10.2, 1.70,3.6, 1.86,3.2, 1.62,14.0, 1.74,12.7, 1.78,14.0, 1.82,13.0,
  2.00,9.6, 2.01,5.3, 2.02,7.5, 2.03,9.0, 2.04,4.4, 2.05,6.2, 2.06,8.1, 2.07,2.4, 2.08,5.5, 2.09,7.0, 2.10,3.4, 2.11,4.6, 2.12,6.6, 2.13,2.9, 2.14,5.4, 2.15,3.7, 2.16,7.3, 2.17,1.8, 2.18,4.7, 2.19,6.0, 2.20,3.0, 2.21,5.2, 2.22,0.4, 2.23,4.0, 2.24,6.8, 2.25,2.5, 2.26,4.9, 2.27,3.6, 2.28,5.8, 2.29,2.0, 2.30,4.3, 2.31,3.0, 2.32,5.1, 2.33,1.4, 2.34,3.9, 2.35,2.6, 2.36,4.6, 2.37,1.9, 2.38,3.3, 2.39,5.0, 2.40,2.2, 2.41,3.7, 2.43,2.8, 2.45,4.0, 2.47,3.2, 2.49,8.7, 2.02,2.8, 2.10,7.9, 2.18,2.6, 2.26,7.2, 2.34,5.8, 2.12,0.9, 2.24,1.5, 2.06,4.0, 2.20,5.8, 2.30,6.0, 2.15,6.8,
  2.53,3.5, 2.55,5.5, 2.57,2.7, 2.59,8.2, 2.61,4.4, 2.63,3.2, 2.65,5.2, 2.67,2.0, 2.69,4.0, 2.71,6.3, 2.73,3.0, 2.75,2.6, 2.77,4.7, 2.79,3.6, 2.81,5.8, 2.60,1.4, 2.70,1.8, 2.78,2.3, 2.56,4.4, 2.66,4.8,
  2.84,9.6, 2.85,4.0, 2.87,2.8, 2.89,5.9, 2.91,3.3, 2.93,1.8, 2.95,4.8, 2.97,3.6, 2.99,2.2, 3.01,4.9, 3.03,3.0, 3.05,5.6, 3.07,2.4, 3.09,4.0, 3.11,1.4, 3.13,3.5, 3.15,4.8, 3.15,2.0, 3.17,34.6, 3.17,19.5, 3.18,25.6, 3.19,27.0, 3.20,29.5, 3.22,18.0, 3.23,17.8, 3.22,14.7, 3.23,10.4, 3.23,7.0, 3.28,37.2, 3.18,4.0, 3.25,3.0, 2.88,7.5, 3.00,6.6, 3.08,6.0,
  3.30,9.3, 3.33,13.5, 3.36,7.4, 3.45,2.5, 3.90,3.1, 3.93,4.1, 3.97,4.0,
];
const p5Big = [
  0.48,5.9,0.035, 0.55,3.7,0.25, 0.63,1.5,0.04, 0.70,6.0,0.12, 0.68,4.3,0.04, 0.72,0.8,0.13, 0.75,5.6,0.035, 0.82,2.6,0.06, 0.86,6.8,0.04, 0.91,3.8,0.06,
  0.99,2.4,0.13, 1.02,3.8,0.06, 1.03,3.1,0.05, 1.10,4.5,0.045, 1.14,7.9,0.04, 1.15,12.7,0.035, 1.24,4.1,0.045, 1.25,8.3,0.06, 1.34,2.2,0.14, 1.36,6.8,0.045,
  1.41,12.7,0.04, 1.43,8.5,0.04, 1.48,9.5,0.06, 1.60,13.5,0.045, 1.64,15.5,0.045, 1.65,16.4,0.04, 1.71,13.6,0.08, 1.80,7.1,0.05, 1.82,28.6,0.08, 2.02,1.2,0.04,
  2.14,1.9,0.12, 2.21,1.7,0.07, 2.27,2.2,0.045, 2.37,1.7,0.04, 2.71,0.9,0.12, 2.90,1.5,0.045, 2.95,0.9,0.07, 3.11,1.5,0.045, 3.16,0.8,0.06,
];

// panel 6: bottom right
const p6Small = [
  0.42,8.0, 0.43,7.3, 0.44,5.5, 0.45,4.9, 0.47,2.8, 0.50,5.6, 0.52,4.8, 0.53,7.6, 0.55,8.8, 0.56,5.5, 0.57,3.0, 0.58,9.0, 0.59,6.6, 0.60,4.2, 0.61,7.8, 0.62,9.9, 0.63,5.3, 0.64,3.3, 0.65,7.1, 0.66,8.0, 0.67,4.5, 0.68,6.2, 0.69,9.6, 0.70,3.8, 0.48,4.0, 0.54,2.5, 0.66,1.8,
  0.71,5.4, 0.72,7.4, 0.73,4.0, 0.74,8.5, 0.75,6.1, 0.76,3.4, 0.77,5.8, 0.78,7.0, 0.79,4.6, 0.80,11.0, 0.81,6.4, 0.82,8.1, 0.83,13.3, 0.84,5.2, 0.85,9.3, 0.86,6.9, 0.87,4.4, 0.88,8.6, 0.89,6.0, 0.90,10.9, 0.91,3.6, 0.92,7.5, 0.93,5.1, 0.94,9.0, 0.95,6.5, 0.96,4.2, 0.97,10.7, 0.98,7.8, 0.99,5.6, 1.00,3.4, 0.73,9.8, 0.77,2.6, 0.84,3.2, 0.90,2.0, 0.95,3.0, 0.81,4.8, 0.88,5.0, 0.99,8.5, 0.76,10.0, 0.86,2.3,
  1.01,6.6, 1.02,9.0, 1.03,4.7, 1.04,7.3, 1.05,5.5, 1.06,3.0, 1.07,8.8, 1.08,6.0, 1.09,4.2, 1.10,7.0, 1.11,5.0, 1.12,3.4, 1.13,6.6, 1.14,8.3, 1.15,4.4, 1.16,5.9, 1.17,2.6, 1.18,6.8, 1.19,4.0, 1.20,5.4, 1.21,7.4, 1.22,3.6, 1.23,6.2, 1.24,4.8, 1.25,6.9, 1.26,2.2, 1.27,5.6, 1.28,8.4, 1.29,4.0, 1.30,6.0, 1.31,3.0, 1.32,5.2, 1.33,7.0, 1.34,4.4, 1.35,6.4, 1.36,2.5, 1.37,5.0, 1.38,9.0, 1.39,3.8, 1.40,6.0, 1.41,4.6, 1.42,7.0, 1.43,2.9, 1.44,5.5, 1.45,3.6, 1.46,6.4, 1.47,4.2, 1.48,5.2, 1.49,2.4, 1.50,7.7, 1.05,1.7, 1.15,1.4, 1.25,3.7, 1.35,1.2, 1.45,1.5, 1.10,4.6, 1.20,2.8, 1.30,8.1, 1.40,2.0, 1.12,6.0, 1.32,3.6, 1.42,5.3,
  1.51,4.0, 1.52,5.8, 1.53,3.0, 1.54,7.6, 1.55,4.6, 1.56,6.2, 1.57,2.6, 1.58,5.4, 1.59,3.7, 1.60,6.9, 1.61,4.3, 1.62,5.6, 1.63,2.2, 1.64,4.8, 1.65,6.5, 1.66,3.4, 1.67,5.2, 1.68,4.0, 1.69,6.0, 1.70,2.9, 1.71,4.5, 1.72,5.7, 1.73,3.3, 1.74,4.9, 1.75,6.4, 1.76,2.6, 1.77,4.2, 1.78,5.4, 1.79,3.5, 1.80,6.0, 1.81,4.4, 1.82,2.8, 1.83,5.0, 1.84,3.9, 1.85,6.2, 1.86,2.3, 1.87,4.6, 1.88,5.6, 1.89,3.2, 1.90,4.8, 1.91,6.0, 1.92,3.0, 1.93,4.2, 1.94,5.4, 1.95,2.6, 1.96,4.0, 1.97,6.2, 1.98,3.6, 1.99,5.0, 1.55,1.4, 1.65,1.0, 1.75,1.6, 1.85,1.2, 1.95,0.8, 1.60,2.4, 1.70,3.8, 1.80,2.0, 1.90,1.6, 1.58,7.6,
  2.00,3.6, 2.01,4.8, 2.02,2.4, 2.03,5.6, 2.04,3.8, 2.05,4.6, 2.06,2.8, 2.07,6.0, 2.08,3.6, 2.09,5.0, 2.10,2.2, 2.11,4.0, 2.12,5.6, 2.13,3.0, 2.14,4.4, 2.15,6.6, 2.16,2.6, 2.17,4.6, 2.18,6.8, 2.19,3.4, 2.20,4.9, 2.21,2.4, 2.22,3.8, 2.23,5.4, 2.24,3.0, 2.25,4.2, 2.26,1.8, 2.27,3.6, 2.28,5.0, 2.29,2.7, 2.30,4.2, 2.31,3.2, 2.32,6.3, 2.33,2.0, 2.34,3.6, 2.35,4.6, 2.36,2.6, 2.37,5.3, 2.38,3.4, 2.39,4.4, 2.40,2.2, 2.41,3.8, 2.42,5.8, 2.43,3.0, 2.44,4.4, 2.45,2.6, 2.46,5.0, 2.47,3.4, 2.48,4.0, 2.49,6.0, 2.05,1.0, 2.15,1.6, 2.25,0.6, 2.35,1.0, 2.45,1.6, 2.10,5.8, 2.20,3.0, 2.30,1.4, 2.40,4.8, 2.02,6.2,
  2.50,3.2, 2.51,4.6, 2.52,2.4, 2.53,5.6, 2.54,3.6, 2.55,4.4, 2.56,2.8, 2.57,5.2, 2.58,3.4, 2.59,4.0, 2.60,2.2, 2.61,3.8, 2.62,5.4, 2.63,3.0, 2.64,4.6, 2.65,6.6, 2.66,2.4, 2.67,3.8, 2.68,5.0, 2.69,3.0, 2.70,4.4, 2.71,2.0, 2.72,3.4, 2.73,5.6, 2.74,3.6, 2.75,4.4, 2.76,2.6, 2.77,5.2, 2.78,3.4, 2.79,4.0, 2.80,2.0, 2.81,3.6, 2.82,5.0, 2.83,3.0, 2.84,4.0, 2.85,2.2, 2.86,3.4, 2.87,4.6, 2.88,2.8, 2.89,3.6, 2.90,2.0, 2.91,4.4, 2.92,3.0, 2.93,5.2, 2.94,2.4, 2.95,3.4, 2.96,4.0, 2.97,2.2, 2.98,3.6, 2.99,5.2, 2.55,1.2, 2.65,0.8, 2.75,1.4, 2.85,0.7, 2.95,1.2, 2.60,5.8, 2.70,1.4, 2.80,5.7, 2.90,1.0, 2.72,4.8,
  3.00,2.8, 3.01,4.0, 3.02,2.0, 3.03,3.4, 3.04,5.5, 3.05,2.6, 3.06,3.8, 3.07,2.2, 3.08,4.4, 3.09,3.0, 3.10,2.0, 3.11,3.6, 3.12,4.8, 3.13,2.6, 3.14,3.4, 3.15,2.0, 3.16,4.0, 3.17,3.0, 3.18,2.2, 3.19,3.6, 3.20,4.2, 3.21,2.4, 3.22,3.2, 3.23,2.0, 3.24,3.8, 3.25,5.2, 3.26,2.8, 3.27,3.6, 3.28,2.0, 3.29,4.0, 3.30,3.0, 3.31,2.2, 3.32,3.6, 3.33,5.0, 3.34,2.6, 3.35,3.8, 3.36,2.0, 3.37,3.0, 3.38,4.6, 3.39,2.4, 3.40,3.4, 3.41,5.9, 3.42,2.8, 3.43,3.6, 3.44,4.4, 3.45,2.2, 3.46,3.0, 3.47,4.0, 3.48,2.6, 3.49,3.4, 3.50,5.2, 3.05,1.2, 3.15,0.8, 3.25,1.0, 3.35,1.4, 3.45,0.7, 3.10,4.6, 3.20,1.4, 3.30,4.8, 3.40,1.8, 3.12,3.0,
  3.51,2.4, 3.52,3.8, 3.53,2.0, 3.54,4.4, 3.55,3.0, 3.56,5.4, 3.57,2.6, 3.58,3.6, 3.59,4.6, 3.60,2.2, 3.61,3.4, 3.62,5.0, 3.63,2.6, 3.64,3.8, 3.65,2.0, 3.66,4.2, 3.67,3.0, 3.68,5.3, 3.69,2.4, 3.70,3.6, 3.71,2.0, 3.72,4.0, 3.73,2.8, 3.74,3.4, 3.75,4.8, 3.76,2.2, 3.77,3.2, 3.78,2.0, 3.79,3.8, 3.80,2.6, 3.81,4.5, 3.82,3.0, 3.83,2.0, 3.84,3.6, 3.85,2.4, 3.86,4.2, 3.87,3.0, 3.88,1.8, 3.89,2.8, 3.90,3.6, 3.91,2.0, 3.92,4.8, 3.93,2.6, 3.94,3.2, 3.95,1.6, 3.96,2.4, 3.97,4.5, 3.98,3.0, 3.99,2.0, 3.55,1.0, 3.65,0.8, 3.75,1.2, 3.85,0.6, 3.95,1.0, 3.60,4.2, 3.70,1.2, 3.80,3.4, 3.90,1.0,
  4.00,2.6, 4.01,1.8, 4.02,3.4, 4.03,2.2, 4.04,4.4, 4.05,1.6, 4.06,2.8, 4.07,2.0, 4.08,3.6, 4.09,1.4, 4.10,2.4, 4.11,3.0, 4.12,1.8, 4.13,2.6, 4.14,3.4, 4.15,2.0, 4.16,1.2, 4.17,2.8, 4.18,2.2, 4.19,3.2, 4.20,1.6, 4.21,2.4, 4.22,3.0, 4.23,1.4, 4.24,2.6, 4.25,2.0, 4.26,3.4, 4.27,1.2, 4.28,2.2, 4.29,1.8, 4.30,2.8, 4.32,1.4, 4.34,2.4, 4.36,1.0, 4.38,2.0, 4.40,1.6, 4.42,2.6, 4.44,1.2, 4.46,2.2, 4.48,1.4, 4.50,1.0, 4.52,2.0, 4.55,1.4, 4.58,0.8, 4.60,1.6, 4.62,1.1, 4.65,2.8, 4.68,0.8, 4.78,1.5, 4.28,4.9, 4.12,3.9, 4.20,3.4, 4.02,4.5, 4.10,0.8, 4.30,0.8, 4.45,2.8, 4.56,2.2,
];
const p6Big = [
  0.44,0.7,0.03, 0.53,0.6,0.13, 0.56,3.6,0.035, 0.61,1.5,0.07, 0.61,0.6,0.06, 0.74,3.1,0.035, 0.76,1.9,0.12, 0.79,1.0,0.13, 0.84,1.3,0.04, 0.93,2.6,0.08,
  0.99,1.7,0.12, 1.05,2.4,0.045, 1.14,1.5,0.045, 1.25,1.7,0.06, 1.29,2.4,0.05, 1.32,1.7,0.05, 1.38,0.1,0.15, 1.50,1.0,0.045, 1.65,2.2,0.045, 1.66,1.0,0.06,
  1.75,1.2,0.05, 1.90,2.0,0.045, 2.01,0.6,0.07, 2.04,2.9,0.045, 2.22,1.2,0.05, 2.42,2.2,0.045, 2.50,0.3,0.07, 2.53,1.3,0.07, 2.54,0.6,0.05, 2.66,0.8,0.07,
  2.78,1.0,0.07, 2.83,1.3,0.05, 3.01,0.3,0.07, 3.12,1.5,0.07, 3.27,0.8,0.07, 3.41,0.8,0.05, 3.62,1.2,0.06, 3.65,2.0,0.045, 3.80,0.3,0.07, 4.06,0.3,0.07, 4.32,0.7,0.08,
];

const panelSmall = [p1Small, p2Small, p3Small, p4Small, p5Small, p6Small];
const panelBig = [p1Big, p2Big, p3Big, p4Big, p5Big, p6Big];

// ---- layout ----
const W = 913;
const H = 1009;
const colX = [65, 536.3];
const rowTop = [12.3, 356.3, 700.3];
const plotW = 375.7;
const plotH = 212.9;
const sans = "'Liberation Sans', Arial, Helvetica, sans-serif";
const serif = "'Liberation Serif', 'Times New Roman', serif";

const massColor = d3
  .scaleLog<string>()
  .domain(colorMass)
  .range(colorHex)
  .interpolate(d3.interpolateRgb)
  .clamp(true);

const massRadius = d3
  .scaleLog()
  .domain([0.006, 0.01, 0.1, 1])
  .range([1.6, 2.2, 3.9, 5.4])
  .clamp(true);

const toPairs = (arr: number[]) =>
  d3.range(0, arr.length - 1, 2).map((k) => ({ a: arr[k], inc: arr[k + 1] }));
const toTriples = (arr: number[]) =>
  d3
    .range(0, arr.length - 2, 3)
    .map((k) => ({ a: arr[k], inc: arr[k + 1], m: arr[k + 2] }))
    .sort((p, q) => p.m - q.m);

function Panel({ idx }: { idx: number }) {
  const x0 = colX[idx % 2];
  const top = rowTop[Math.floor(idx / 2)];
  const withResonances = idx % 2 === 0;

  const x = d3.scaleLinear().domain([0, 5.5]).range([x0, x0 + plotW]);
  const y = d3.scaleLinear().domain([-1, 40]).range([top + plotH, top]);
  const bottom = top + plotH;
  const right = x0 + plotW;

  const small = toPairs(panelSmall[idx]);
  const big = toTriples(panelBig[idx]);
  const sColor = massColor(smallMass[idx]);
  const sR = massRadius(smallMass[idx]);

  const xMinor = d3.range(0, 55).map((k) => k / 10).filter((v) => v % 1 !== 0);
  const yMinor = d3.range(0, 41).filter((v) => v % 5 !== 0);

  // colour bar
  const cbLeft = x0 - 23.5;
  const cbRight = right;
  const cbTop = top + 259.4;
  const cbH = 9.4;
  const cb = d3.scaleLog().domain([0.001, 2]).range([cbLeft, cbRight]);
  const cbMinor: number[] = [];
  [0.001, 0.01, 0.1, 1].forEach((dec) => {
    d3.range(2, 10).forEach((k) => {
      if (dec * k < 2) cbMinor.push(dec * k);
    });
  });
  const gradId = `cbgrad${idx}`;
  const nu = nuLabelPos[Math.floor(idx / 2)];

  return (
    <g>
      <defs>
        <linearGradient id={gradId} x1="0" x2="1" y1="0" y2="0">
          {colorMass.map((m, k) => (
            <stop
              key={k}
              offset={`${((Math.log10(m) + 3) / (Math.log10(2) + 3)) * 100}%`}
              stopColor={colorHex[k]}
            />
          ))}
        </linearGradient>
        <clipPath id={`clip${idx}`}>
          <rect x={x0} y={top} width={plotW} height={plotH} />
        </clipPath>
      </defs>

      {/* points */}
      <g clipPath={`url(#clip${idx})`}>
        {small.map((p, k) => (
          <circle key={k} cx={x(p.a)} cy={y(p.inc)} r={sR} fill={sColor} />
        ))}
        {big.map((p, k) => (
          <circle key={k} cx={x(p.a)} cy={y(p.inc)} r={massRadius(p.m)} fill={massColor(p.m)} />
        ))}
      </g>

      {/* resonances */}
      {withResonances &&
        resonanceA.map((r, k) => (
          <g key={k}>
            <line x1={x(r)} x2={x(r)} y1={top} y2={bottom} stroke="#1a1a1a" strokeWidth={1.5} />
            <text
              transform={`translate(${x(r) - 0.8},${top + 6.5}) rotate(-90)`}
              textAnchor="end"
              fontFamily={serif}
              fontSize={10.5}
              fill="#111"
            >
              {resonanceText[k]}
            </text>
          </g>
        ))}
      {withResonances && (
        <text x={x(nu[0])} y={y(nu[1])} fontFamily={serif} fontSize={15} fill="#222">
          ν
          <tspan fontSize={12} dy={4.5}>16</tspan>
        </text>
      )}

      {/* frame and ticks */}
      <rect x={x0} y={top} width={plotW} height={plotH} fill="none" stroke="#000" strokeWidth={1.4} />
      {xTicks.map((t) => (
        <g key={`xt${t}`}>
          <line x1={x(t)} x2={x(t)} y1={bottom} y2={bottom - 4.5} stroke="#000" strokeWidth={1} />
          <line x1={x(t)} x2={x(t)} y1={top} y2={top + 4.5} stroke="#000" strokeWidth={1} />
          <text x={x(t)} y={top + 231} textAnchor="middle" fontFamily={sans} fontSize={11.5} fill="#222">
            {t}
          </text>
        </g>
      ))}
      {xMinor.map((t, k) => (
        <g key={`xm${k}`}>
          <line x1={x(t)} x2={x(t)} y1={bottom} y2={bottom - 2.2} stroke="#000" strokeWidth={0.8} />
          <line x1={x(t)} x2={x(t)} y1={top} y2={top + 2.2} stroke="#000" strokeWidth={0.8} />
        </g>
      ))}
      {yTicks.map((t) => (
        <g key={`yt${t}`}>
          <line x1={x0} x2={x0 + 4.5} y1={y(t)} y2={y(t)} stroke="#000" strokeWidth={1} />
          <line x1={right} x2={right - 4.5} y1={y(t)} y2={y(t)} stroke="#000" strokeWidth={1} />
          <text x={x0 - 8} y={y(t)} dy="0.36em" textAnchor="end" fontFamily={sans} fontSize={11.3} fill="#222">
            {t.toFixed(2)}
          </text>
        </g>
      ))}
      {yMinor.map((t) => (
        <g key={`ym${t}`}>
          <line x1={x0} x2={x0 + 2.2} y1={y(t)} y2={y(t)} stroke="#000" strokeWidth={0.8} />
          <line x1={right} x2={right - 2.2} y1={y(t)} y2={y(t)} stroke="#000" strokeWidth={0.8} />
        </g>
      ))}

      {/* titles */}
      <text
        transform={`translate(${x0 - 52},${top + plotH / 2}) rotate(-90)`}
        dy="0.36em"
        textAnchor="middle"
        fontFamily={sans}
        fontSize={14}
        fill="#222"
      >
        Inclination
      </text>
      <text x={(x0 + right) / 2} y={top + 247} textAnchor="middle" fontFamily={sans} fontSize={14} fill="#222">
        Semi-major Axis (AU)
      </text>
      <text
        x={right - 14}
        y={top + 11.8}
        textAnchor="end"
        fontFamily={sans}
        fontSize={11}
        fill="#222"
        style={{ whiteSpace: "pre" }}
      >
        {timeLabels[idx]}
      </text>

      {/* colour bar */}
      <rect x={cbLeft} y={cbTop} width={cbRight - cbLeft} height={cbH} fill={`url(#${gradId})`} />
      {cbTicks.map((t) => (
        <g key={`cb${t}`}>
          <line x1={cb(t)} x2={cb(t)} y1={cbTop} y2={cbTop + 3.5} stroke="#000" strokeWidth={1} />
          <line x1={cb(t)} x2={cb(t)} y1={cbTop + cbH} y2={cbTop + cbH - 3.5} stroke="#000" strokeWidth={1} />
        </g>
      ))}
      {cbMinor.map((t, k) => (
        <g key={`cbm${k}`}>
          <line x1={cb(t)} x2={cb(t)} y1={cbTop} y2={cbTop + 1.8} stroke="#000" strokeWidth={0.8} />
          <line x1={cb(t)} x2={cb(t)} y1={cbTop + cbH} y2={cbTop + cbH - 1.8} stroke="#000" strokeWidth={0.8} />
        </g>
      ))}
      <rect x={cbLeft} y={cbTop} width={cbRight - cbLeft} height={cbH} fill="none" stroke="#000" strokeWidth={1.2} />
      {cbTicks.map((t, k) => (
        <text key={`cbl${t}`} x={cb(t)} y={top + 284.2} textAnchor="middle" fontFamily={sans} fontSize={11} fill="#222">
          {cbTickLabels[k]}
        </text>
      ))}
      <text x={(cbLeft + cbRight) / 2} y={top + 302} textAnchor="middle" fontFamily={sans} fontSize={14} fill="#222">
        Mass (Earth Mass)
      </text>
    </g>
  );
}

export default function App() {
  return (
    <svg
      width={W}
      height={H}
      viewBox={`0 0 ${W} ${H}`}
      style={{ position: "absolute", left: 0, top: 0, background: "#fff" }}
    >
      <rect x={0} y={0} width={W} height={H} fill="#fff" />
      {d3.range(6).map((k) => (
        <Panel key={k} idx={k} />
      ))}
    </svg>
  );
}
